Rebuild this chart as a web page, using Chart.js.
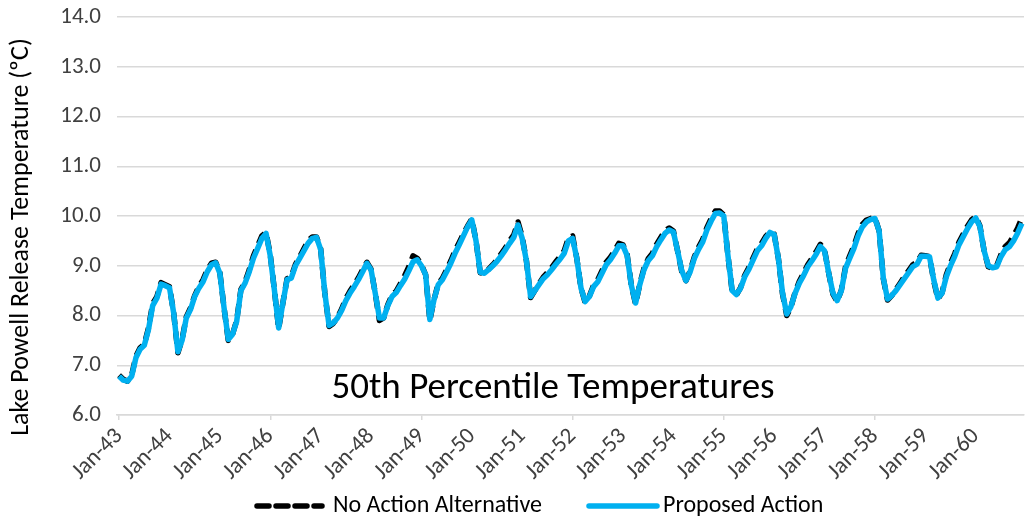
<!DOCTYPE html>
<html>
<head>
<meta charset="utf-8">
<script src="https://cdn.jsdelivr.net/npm/chart.js@4.4.0/dist/chart.umd.min.js"></script>
<style>
  html, body { margin: 0; padding: 0; background: #ffffff; }
  #wrap { width: 1026px; height: 521px; }
</style>
</head>
<body>
<div id="wrap"><canvas id="chart" width="1026" height="521"></canvas></div>
<script>
// Monthly 50th percentile release temperatures, Jan-43 .. Dec-60
const years = ['43','44','45','46','47','48','49','50','51','52','53','54','55','56','57','58','59','60'];
const months = ['Jan','Feb','Mar','Apr','May','Jun','Jul','Aug','Sep','Oct','Nov','Dec'];
const yTicks = [6, 7, 8, 9, 10, 11, 12, 13, 14];

const noAction = [
  6.80, 6.72, 6.68, 6.80, 7.18, 7.35, 7.42, 7.75, 8.24, 8.38, 8.66, 8.62,
  8.58, 8.05, 7.25, 7.52, 7.97, 8.15, 8.40, 8.58, 8.72, 8.92, 9.05, 9.07,
  8.86, 8.15, 7.50, 7.62, 7.90, 8.52, 8.68, 8.92, 9.20, 9.40, 9.60, 9.67,
  9.22, 8.50, 7.73, 8.25, 8.74, 8.78, 9.03, 9.18, 9.34, 9.50, 9.58, 9.58,
  9.34, 8.45, 7.78, 7.84, 7.96, 8.13, 8.34, 8.49, 8.62, 8.76, 8.92, 9.07,
  8.93, 8.45, 7.90, 7.95, 8.22, 8.41, 8.49, 8.64, 8.80, 8.98, 9.20, 9.15,
  9.02, 8.82, 7.90, 8.32, 8.64, 8.75, 8.92, 9.10, 9.30, 9.47, 9.64, 9.80,
  9.94, 9.50, 8.86, 8.85, 8.93, 9.02, 9.12, 9.24, 9.36, 9.50, 9.62, 9.88,
  9.58, 9.10, 8.36, 8.50, 8.64, 8.77, 8.86, 8.96, 9.08, 9.18, 9.30, 9.56,
  9.60, 9.15, 8.55, 8.26, 8.39, 8.61, 8.72, 8.90, 9.07, 9.17, 9.30, 9.45,
  9.42, 9.22, 8.60, 8.23, 8.63, 8.95, 9.14, 9.25, 9.43, 9.57, 9.70, 9.76,
  9.70, 9.30, 8.88, 8.70, 8.90, 9.18, 9.37, 9.53, 9.77, 9.95, 10.10, 10.10,
  10.02, 9.20, 8.48, 8.41, 8.56, 8.81, 8.97, 9.16, 9.34, 9.45, 9.59, 9.68,
  9.64, 9.15, 8.43, 8.00, 8.17, 8.47, 8.69, 8.85, 9.02, 9.15, 9.28, 9.43,
  9.32, 8.85, 8.43, 8.28, 8.51, 8.98, 9.20, 9.40, 9.65, 9.83, 9.92, 9.95,
  9.97, 9.70, 8.74, 8.31, 8.40, 8.52, 8.65, 8.78, 8.90, 9.02, 9.07, 9.21,
  9.20, 9.18, 8.70, 8.33, 8.46, 8.82, 9.05, 9.24, 9.47, 9.63, 9.79, 9.92,
  9.99, 9.80, 9.30, 8.98, 8.95, 9.00, 9.22, 9.38, 9.46, 9.60, 9.76, 9.96
];

const proposed = [
  6.78, 6.70, 6.68, 6.78, 7.15, 7.32, 7.40, 7.72, 8.20, 8.35, 8.63, 8.60,
  8.56, 8.05, 7.27, 7.50, 7.95, 8.12, 8.38, 8.55, 8.68, 8.88, 9.02, 9.06,
  8.85, 8.15, 7.52, 7.62, 7.88, 8.50, 8.65, 8.88, 9.15, 9.35, 9.55, 9.65,
  9.20, 8.50, 7.75, 8.25, 8.72, 8.75, 9.00, 9.15, 9.30, 9.45, 9.55, 9.57,
  9.33, 8.45, 7.80, 7.85, 7.95, 8.10, 8.30, 8.45, 8.58, 8.72, 8.88, 9.05,
  8.92, 8.45, 7.95, 7.95, 8.20, 8.38, 8.46, 8.60, 8.73, 8.90, 9.08, 9.12,
  9.00, 8.82, 7.92, 8.32, 8.62, 8.72, 8.88, 9.05, 9.25, 9.42, 9.60, 9.78,
  9.92, 9.50, 8.87, 8.85, 8.92, 9.00, 9.09, 9.20, 9.32, 9.45, 9.57, 9.82,
  9.55, 9.10, 8.38, 8.50, 8.62, 8.74, 8.82, 8.92, 9.03, 9.13, 9.25, 9.50,
  9.55, 9.15, 8.55, 8.28, 8.38, 8.58, 8.68, 8.85, 9.02, 9.12, 9.25, 9.40,
  9.40, 9.20, 8.60, 8.25, 8.62, 8.92, 9.10, 9.20, 9.38, 9.52, 9.65, 9.72,
  9.68, 9.30, 8.90, 8.70, 8.88, 9.15, 9.33, 9.48, 9.72, 9.90, 10.05, 10.06,
  10.00, 9.20, 8.50, 8.42, 8.55, 8.78, 8.93, 9.12, 9.30, 9.40, 9.55, 9.67,
  9.63, 9.15, 8.45, 8.03, 8.18, 8.45, 8.65, 8.80, 8.98, 9.10, 9.23, 9.39,
  9.30, 8.85, 8.45, 8.30, 8.50, 8.95, 9.15, 9.35, 9.60, 9.78, 9.88, 9.93,
  9.95, 9.70, 8.75, 8.33, 8.40, 8.50, 8.62, 8.74, 8.86, 8.98, 9.03, 9.19,
  9.19, 9.18, 8.72, 8.35, 8.45, 8.78, 9.00, 9.19, 9.42, 9.58, 9.74, 9.88,
  9.96, 9.79, 9.30, 9.00, 8.96, 8.98, 9.18, 9.32, 9.38, 9.50, 9.66, 9.85
];

const labels = [];
years.forEach(y => months.forEach(m => labels.push(m + '-' + y)));

const FONT = 'Carlito, Lato, sans-serif';
const TEXT = '#404040';
const GRID = '#d9d9d9';

// Axis title, in-plot caption and bottom legend
const decor = {
  id: 'decor',
  afterDraw(chart) {
    const ctx = chart.ctx;
    const ds = chart.data.datasets;
    ctx.save();

    // vertical axis title
    ctx.fillStyle = '#000000';
    ctx.font = '26px ' + FONT;
    ctx.textAlign = 'center';
    ctx.textBaseline = 'middle';
    ctx.translate(21, 237);
    ctx.rotate(-Math.PI / 2);
    ctx.fillText('Lake Powell Release Temperature (\u00baC)', 0, 0);
    ctx.setTransform(1, 0, 0, 1, 0, 0);

    // caption inside the plot
    ctx.font = '37px ' + FONT;
    ctx.textAlign = 'center';
    ctx.textBaseline = 'alphabetic';
    ctx.fillStyle = '#000000';
    ctx.fillText('50th Percentile Temperatures', 553, 398);

    // legend
    ctx.font = '24px ' + FONT;
    ctx.textBaseline = 'middle';
    ctx.textAlign = 'left';
    const ly = 506;
    const items = [
      { x: 257, w: 65, tx: 333, ds: ds[0] },
      { x: 589, w: 68, tx: 663, ds: ds[1] }
    ];
    items.forEach(it => {
      ctx.beginPath();
      ctx.strokeStyle = it.ds.borderColor;
      ctx.lineWidth = 5.5;
      ctx.lineCap = 'round';
      ctx.setLineDash(it.ds.borderDash || []);
      ctx.moveTo(it.x, ly);
      ctx.lineTo(it.x + it.w, ly);
      ctx.stroke();
      ctx.setLineDash([]);
      ctx.fillStyle = '#000000';
      ctx.fillText(it.ds.label, it.tx, ly);
    });
    ctx.restore();
  }
};

new Chart(document.getElementById('chart'), {
  type: 'line',
  data: {
    labels: labels,
    datasets: [
      {
        label: 'No Action Alternative',
        data: noAction,
        borderColor: '#000000',
        borderWidth: 5.5,
        borderDash: [12, 7],
        borderJoinStyle: 'round',
        pointRadius: 0,
        tension: 0,
        order: 2
      },
      {
        label: 'Proposed Action',
        data: proposed,
        borderColor: '#00b0f0',
        borderWidth: 5.5,
        borderJoinStyle: 'round',
        pointRadius: 0,
        tension: 0,
        order: 1
      }
    ]
  },
  options: {
    responsive: false,
    animation: false,
    devicePixelRatio: 1,
    layout: { padding: { top: 17, right: 2, left: 0, bottom: 41 } },
    plugins: {
      legend: { display: false },
      tooltip: { enabled: false }
    },
    scales: {
      x: {
        offset: true,
        grid: {
          drawOnChartArea: false,
          drawTicks: true,
          tickLength: 5,
          lineWidth: 1.5,
          color: ctx => (ctx.index % 6 === 0 ? GRID : 'rgba(0,0,0,0)')
        },
        border: { color: GRID, width: 1.5 },
        ticks: {
          autoSkip: false,
          minRotation: 45,
          maxRotation: 45,
          padding: 3,
          color: TEXT,
          font: { family: FONT, size: 23 },
          callback: function (v, i) {
            if (i % 12 === 0) return labels[i];
            if (i % 6 === 0) return '';
            return null;
          }
        },
        afterFit: s => {
          s.height = 65;
          s.paddingLeft = 0;
          s.paddingRight = 0;
          s.paddingTop = 0;
          s.paddingBottom = 0;
        }
      },
      y: {
        min: yTicks[0],
        max: yTicks[yTicks.length - 1],
        afterBuildTicks: s => { s.ticks = yTicks.map(v => ({ value: v })); },
        grid: { color: GRID, lineWidth: 1.5, drawTicks: false },
        border: { display: false },
        ticks: {
          padding: 16,
          color: TEXT,
          font: { family: FONT, size: 23 },
          callback: v => Number(v).toFixed(1)
        },
        afterFit: s => {
          s.width = 117;
          s.paddingTop = 0;
          s.paddingBottom = 0;
          s.paddingLeft = 0;
          s.paddingRight = 0;
        }
      }
    }
  },
  plugins: [decor]
});
</script>
</body>
</html>
